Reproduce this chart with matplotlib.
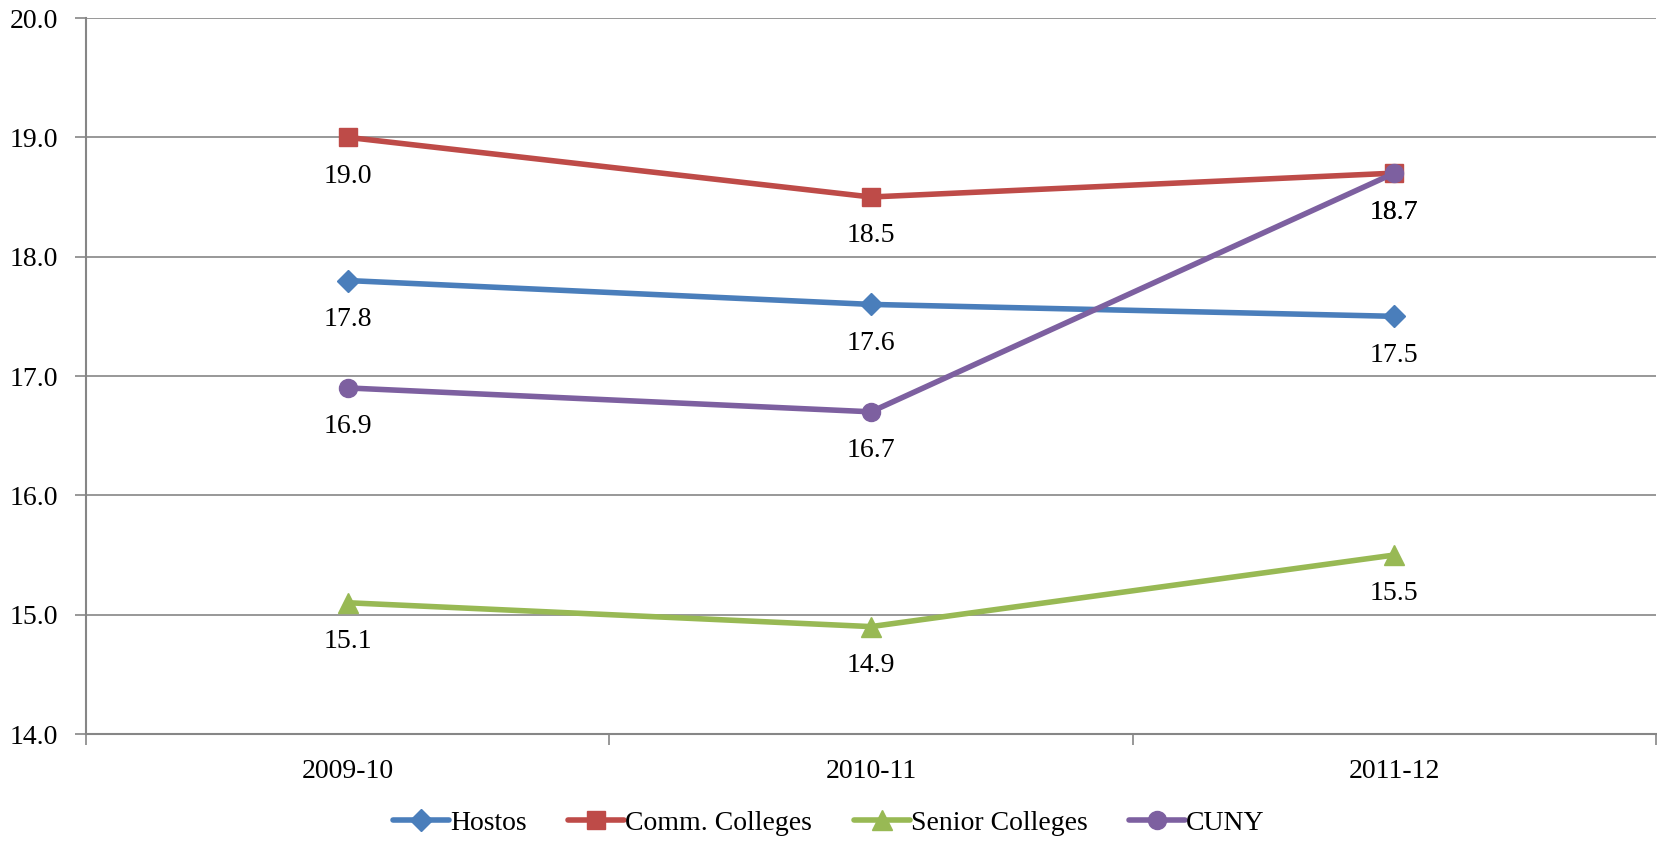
import matplotlib
matplotlib.use("Agg")
import matplotlib.pyplot as plt
from matplotlib.ticker import MultipleLocator, FixedLocator

categories = ["2009-10", "2010-11", "2011-12"]
hostos = [17.8, 17.6, 17.5]
comm = [19.0, 18.5, 18.7]
senior = [15.1, 14.9, 15.5]
cuny = [16.9, 16.7, 18.7]

series = [
    ("Hostos", hostos, "#4A7EBB", "D", 11),
    ("Comm. Colleges", comm, "#BE4B48", "s", 13),
    ("Senior Colleges", senior, "#98B954", "^", 14),
    ("CUNY", cuny, "#7D60A0", "o", 13),
]

plt.rcParams['font.family'] = ['Liberation Serif', 'DejaVu Serif']

fig = plt.figure(figsize=(16.58, 8.44), dpi=100)
ax = fig.add_axes([86/1658, 1 - 734/844, (1656-86)/1658, (734-18)/844])

x = list(range(len(categories)))
for name, vals, col, mk, ms in series:
    ax.plot(x, vals, color=col, lw=4, marker=mk, markersize=ms, label=name,
            solid_capstyle='round', zorder=3)
    for xi, v in zip(x, vals):
        ax.annotate(f"{v:.1f}", (xi, v), xytext=(0, -28), textcoords='offset points',
                    ha='center', va='center', fontsize=20, color='black')

ax.set_xlim(-0.5, 2.5)
ax.set_ylim(14, 20)
ax.yaxis.set_major_locator(MultipleLocator(1))
ax.yaxis.set_major_formatter(matplotlib.ticker.FormatStrFormatter('%.1f'))
ax.set_xticks(x)
ax.set_xticklabels(categories)
ax.xaxis.set_minor_locator(FixedLocator([-0.5, 0.5, 1.5, 2.5]))
ax.tick_params(axis='x', which='major', length=0, pad=18, labelsize=20)
ax.tick_params(axis='x', which='minor', length=8, width=1.2, color='#868686')
ax.tick_params(axis='y', which='major', length=8, width=1.2, color='#868686', labelsize=20, pad=12)
ax.grid(axis='y', color='#868686', lw=1.2)
ax.set_axisbelow(True)
for s in ['top', 'right']:
    ax.spines[s].set_visible(False)
for s in ['left', 'bottom']:
    ax.spines[s].set_color('#868686')
    ax.spines[s].set_linewidth(1.5)

leg = fig.legend(loc='center', bbox_to_anchor=(0.5, 1 - 823/844), ncol=4, frameon=False,
                 fontsize=20, handlelength=2.0, handletextpad=0.05, columnspacing=1.5)

fig.savefig("out.png", dpi=100)
